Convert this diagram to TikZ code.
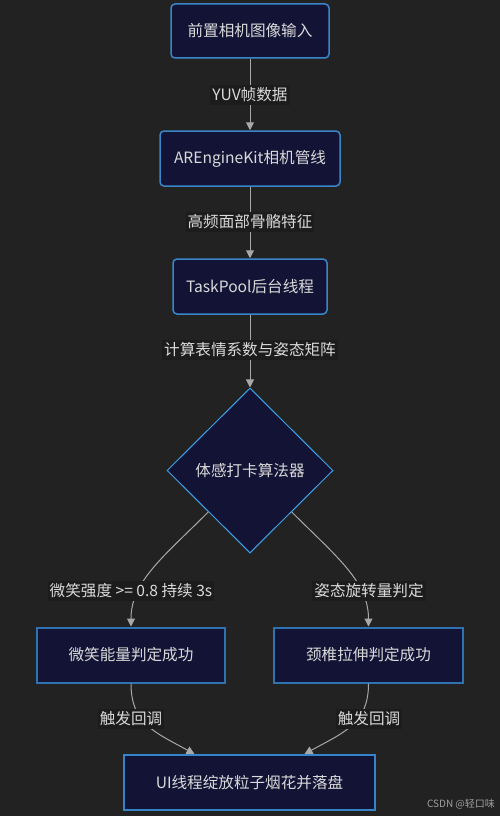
\documentclass[tikz,border=0pt]{standalone}
\usepackage{fontspec}
\setmainfont{Noto Sans CJK SC}
\usetikzlibrary{shapes.geometric,arrows.meta}
\definecolor{bgc}{HTML}{222222}
\definecolor{nodefill}{HTML}{131336}
\definecolor{rborder}{HTML}{3A86C8}
\definecolor{sborder}{HTML}{2F72B0}
\definecolor{uborder}{HTML}{3584C8}
\definecolor{dborder}{HTML}{3EA2EA}
\definecolor{txt}{HTML}{DADADA}
\definecolor{edgec}{HTML}{A8A8A8}
\definecolor{lblbg}{HTML}{1C1C1C}
\definecolor{wmc}{HTML}{A0A0A0}
\begin{document}
\begin{tikzpicture}[x=1pt,y=-1pt,
 every node/.style={font=\fontsize{15.6}{18}\selectfont, text=txt},
 rbox/.style={draw=rborder, line width=1.5pt, fill=nodefill, rounded corners=4pt, minimum height=55pt, inner sep=0pt},
 sbox/.style={draw=sborder, line width=2pt, fill=nodefill, minimum height=55pt, inner sep=0pt},
 ubox/.style={sbox, draw=uborder},
 dbox/.style={diamond, draw=dborder, line width=1pt, fill=nodefill, minimum width=166pt, minimum height=165pt, inner sep=0pt, aspect=1},
 lbl/.style={fill=lblbg, inner xsep=2pt, inner ysep=3pt},
 edge/.style={draw=edgec, line width=1pt, -{Triangle[width=8pt,length=8pt]}},
]
\fill[bgc] (0,0) rectangle (500,816);
\useasboundingbox (0,0) rectangle (500,816);

\node[rbox, minimum width=158pt, minimum height=54pt] (n1) at (250,31) {前置相机图像输入};
\node[rbox, minimum width=180pt] (n2) at (250,158.5) {AREngineKit相机管线};
\node[rbox, minimum width=154pt] (n3) at (250,286.5) {TaskPool后台线程};
\node[dbox] (d) at (250,470.5) {体感打卡算法器};
\node[sbox, minimum width=188pt] (L) at (131,655) {微笑能量判定成功};
\node[sbox, minimum width=189pt] (R) at (368.5,655) {颈椎拉伸判定成功};
\node[ubox, minimum width=251pt] (U) at (249.5,782.5) {UI线程绽放粒子烟花并落盘};

\draw[edge] (n1) -- (n2);
\draw[edge] (n2) -- (n3);
\draw[edge] (n3) -- (d);
\draw[edge] (d.south west) .. controls +(-45,45) and +(0,-45) .. (L.north);
\draw[edge] (d.south east) .. controls +(45,45) and +(0,-45) .. (R.north);
\draw[edge] (L.south) .. controls +(0,40) and +(-40,-22) .. ([xshift=-55pt]U.north);
\draw[edge] (R.south) .. controls +(0,40) and +(40,-22) .. ([xshift=55pt]U.north);

\node[lbl] (l1) at (250,95) {YUV帧数据};
\node[lbl] (l2) at (250,222) {高频面部骨骼特征};
\node[lbl] (l3) at (250,350) {计算表情系数与姿态矩阵};
\node[lbl] (l4) at (131,591) {微笑强度 >= 0.8 持续 3s};
\node[lbl] (l5) at (369,591) {姿态旋转量判定};
\node[lbl] (l6) at (131,719) {触发回调};
\node[lbl] (l7) at (369,719) {触发回调};

\node[font=\fontsize{10}{12}\selectfont, text=wmc] (wm) at (461,804) {CSDN @轻口味};
\end{tikzpicture}
\end{document}
